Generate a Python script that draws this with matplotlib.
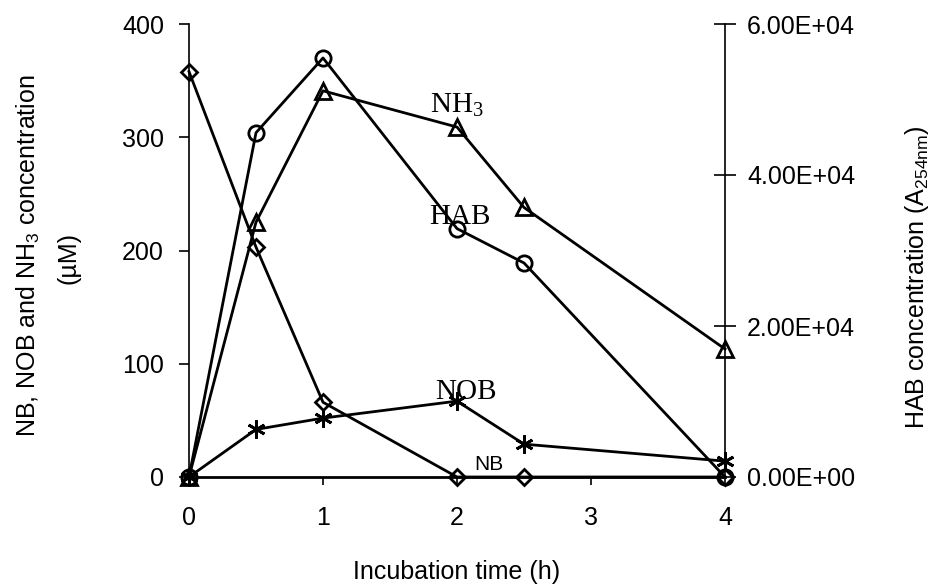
import matplotlib
matplotlib.use("Agg")
import matplotlib.pyplot as plt

plt.rcParams['font.family'] = ['Liberation Sans', 'DejaVu Sans']

time = [0, 0.5, 1, 2, 2.5, 4]
nb = [358, 203, 66, 0, 0, 0]
nob = [0, 42, 52, 67, 29, 14]
nh3 = [0, 225, 341, 309, 238, 113]
hab = [0, 45600, 55500, 32900, 28350, 0]

x_ticks = [0, 1, 2, 3, 4]
left_ticks = [0, 100, 200, 300, 400]
right_ticks = [0, 20000, 40000, 60000]
right_labels = ['0.00E+00', '2.00E+04', '4.00E+04', '6.00E+04']

fig = plt.figure(figsize=(9.36, 5.86), dpi=100)
ax = fig.add_axes([189/936, 1-477/586, (725-189)/936, (477-24)/586])
ax2 = ax.twinx()

lw = 2.0
ax.plot(time, nb, color='black', lw=lw, marker='D', ms=8, mfc='none', mew=2, clip_on=False, zorder=3)
ax.plot(time, nob, color='black', lw=lw, marker=(6, 2, 0), ms=13, mew=2, clip_on=False, zorder=3)
ax.plot(time, nh3, color='black', lw=lw, marker='^', ms=11, mfc='none', mew=2, clip_on=False, zorder=3)
ax2.plot(time, hab, color='black', lw=lw, marker='o', ms=11, mfc='none', mew=2, clip_on=False, zorder=3)

ax.set_xlim(0, 4)
ax.set_ylim(0, 400)
ax2.set_ylim(0, 60000)

ax.set_xticks(x_ticks)
ax.set_xticklabels([str(t) for t in x_ticks])
ax.set_yticks(left_ticks)
ax2.set_yticks(right_ticks)
ax2.set_yticklabels(right_labels)

for a in (ax, ax2):
    a.spines['top'].set_visible(False)
ax.spines['right'].set_visible(False)
ax2.spines['left'].set_visible(False)
ax2.spines['bottom'].set_visible(False)
ax.spines['left'].set_linewidth(1.2)
ax.spines['bottom'].set_linewidth(2.0)
ax2.spines['right'].set_linewidth(1.2)

ax.tick_params(axis='x', direction='out', length=6, width=1.2, pad=15, labelsize=18)
ax.tick_params(axis='y', direction='out', length=7, width=1.2, pad=11, labelsize=18)
ax2.tick_params(axis='y', direction='inout', length=16, width=1.2, pad=8, labelsize=18)

fig.text(457/936, 1-572/586, 'Incubation time (h)', ha='center', va='center', fontsize=18)
fig.text(28/936, 1-256/586, r'NB, NOB and NH$_\mathregular{3}$ concentration',
         rotation=90, ha='center', va='center', fontsize=18)
fig.text(68/936, 1-258/586, '(µM)', rotation=90, ha='center', va='center', fontsize=18)
fig.text(917/936, 1-277/586, r'HAB concentration (A$_\mathregular{254nm}$)',
         rotation=90, ha='center', va='center', fontsize=18)

serif = 'Liberation Serif'
ax.text(2.0, 328, r'NH$_\mathregular{3}$', fontsize=21, family=serif, ha='center', va='center')
ax.text(2.02, 230, 'HAB', fontsize=21, family=serif, ha='center', va='center')
ax.text(2.07, 75, 'NOB', fontsize=21, family=serif, ha='center', va='center')
ax.text(2.24, 11, 'NB', fontsize=15, ha='center', va='center')

fig.savefig('out.png', dpi=100)
